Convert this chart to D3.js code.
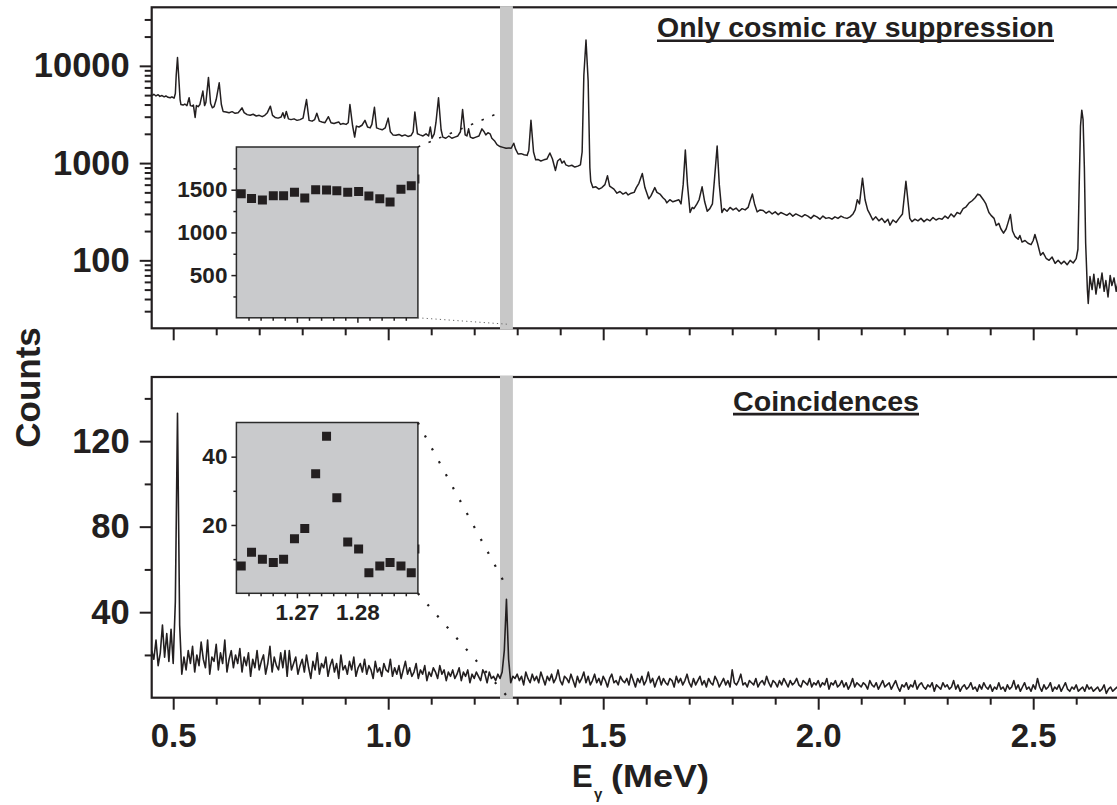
<!DOCTYPE html>
<html lang="en">
<head>
<meta charset="UTF-8">
<title>Gamma spectra: cosmic ray suppression and coincidences</title>
<script src="https://d3js.org/d3.v7.min.js"></script>
<style>
  body { margin: 0; background: #fff; }
  svg text { font-family: "Liberation Sans", Arial, Helvetica, sans-serif; font-weight: bold; fill: #231f20; }
</style>
</head>
<body>
<svg id="chart" width="1117" height="805"></svg>
<script>
// ---- data ----
// singles spectrum with only cosmic ray suppression: [energy MeV, counts]
const cosmicSpectrum = [
  [0.451,4950],[0.455,5100],[0.460,4900],[0.465,5050],[0.469,4850],[0.474,4950],[0.479,4800],[0.483,4900],[0.488,4750],[0.493,4700],
  [0.497,4800],[0.502,4650],[0.505,5200],[0.507,8000],[0.510,12200],[0.513,7500],[0.516,4500],[0.518,4000],[0.523,3950],[0.527,4050],
  [0.532,3900],[0.537,4700],[0.540,3900],[0.544,3850],[0.547,3950],[0.551,2950],[0.554,3900],[0.558,3800],[0.562,4000],[0.569,5500],
  [0.573,3900],[0.576,4200],[0.582,7600],[0.587,4100],[0.591,3700],[0.595,3800],[0.600,4500],[0.607,6700],[0.612,4000],[0.616,3400],
  [0.623,3350],[0.630,3300],[0.637,3380],[0.644,3250],[0.651,3300],[0.655,3450],[0.660,3700],[0.665,3300],[0.672,3150],[0.679,3100],
  [0.686,3180],[0.693,3050],[0.700,3100],[0.707,3000],[0.713,3100],[0.719,3300],[0.726,3850],[0.731,3100],[0.737,2950],[0.744,2900],
  [0.751,2980],[0.755,3300],[0.759,2900],[0.763,3400],[0.768,2850],[0.774,2800],[0.781,2850],[0.788,2750],[0.795,2800],[0.802,2900],
  [0.810,4500],[0.816,2750],[0.823,2700],[0.829,2800],[0.834,3250],[0.840,2700],[0.846,2650],[0.853,2600],[0.861,3000],[0.867,2600],
  [0.874,2550],[0.879,2600],[0.885,2650],[0.889,2500],[0.895,2550],[0.902,2500],[0.907,2600],[0.911,4000],[0.917,2450],[0.922,1850],
  [0.926,2400],[0.932,2350],[0.939,2450],[0.946,2750],[0.952,2350],[0.958,2300],[0.962,2500],[0.968,3750],[0.973,2300],[0.979,2250],
  [0.986,2200],[0.993,2300],[1.000,2900],[1.005,2100],[1.011,1950],[1.018,1930],[1.025,1970],[1.032,1900],[1.039,1950],[1.046,1880],
  [1.053,1920],[1.058,2100],[1.062,3350],[1.068,2000],[1.074,1950],[1.081,1900],[1.088,2000],[1.094,1900],[1.098,2350],[1.102,1800],
  [1.107,2000],[1.111,2600],[1.117,4700],[1.123,2200],[1.127,1850],[1.134,1800],[1.141,1900],[1.148,1800],[1.155,1850],[1.162,1900],
  [1.168,2100],[1.173,3550],[1.179,1950],[1.183,1900],[1.187,2250],[1.191,1850],[1.197,1800],[1.204,1850],[1.211,1900],[1.218,2250],
  [1.223,2100],[1.227,1950],[1.232,2050],[1.237,2000],[1.241,1800],[1.247,1700],[1.253,1550],[1.260,1480],[1.267,1450],[1.274,1420],
  [1.281,1430],[1.286,1420],[1.292,1600],[1.296,1400],[1.302,1240],[1.309,1250],[1.316,1220],[1.323,1200],[1.327,1350],[1.332,2750],
  [1.338,1300],[1.343,1080],[1.348,1090],[1.355,1050],[1.362,1080],[1.369,1100],[1.376,1270],[1.382,1100],[1.389,840],[1.394,1050],
  [1.400,1110],[1.404,1000],[1.409,1050],[1.413,960],[1.420,930],[1.427,950],[1.434,910],[1.441,930],[1.447,960],[1.451,1300],
  [1.455,8000],[1.460,18400],[1.465,7000],[1.469,900],[1.471,650],[1.476,560],[1.483,570],[1.490,540],[1.497,560],[1.504,600],
  [1.510,740],[1.515,580],[1.520,560],[1.525,540],[1.532,490],[1.539,510],[1.546,480],[1.553,500],[1.558,470],[1.565,490],
  [1.572,500],[1.577,560],[1.583,620],[1.591,780],[1.597,560],[1.606,430],[1.611,460],[1.620,560],[1.625,500],[1.632,480],
  [1.639,440],[1.644,420],[1.648,390],[1.655,420],[1.662,400],[1.669,410],[1.676,420],[1.681,380],[1.686,600],[1.691,1360],
  [1.696,600],[1.702,310],[1.707,350],[1.711,340],[1.718,380],[1.723,420],[1.730,570],[1.736,400],[1.742,320],[1.748,340],
  [1.754,380],[1.759,700],[1.765,1500],[1.770,600],[1.776,310],[1.781,340],[1.788,320],[1.795,350],[1.802,330],[1.809,345],
  [1.816,320],[1.823,340],[1.830,330],[1.837,350],[1.841,400],[1.847,480],[1.852,380],[1.858,315],[1.865,330],[1.872,325],
  [1.879,305],[1.886,320],[1.893,300],[1.900,315],[1.907,295],[1.913,310],[1.920,300],[1.927,290],[1.934,305],[1.941,285],
  [1.948,300],[1.955,290],[1.962,280],[1.969,295],[1.976,285],[1.983,270],[1.990,290],[1.997,280],[2.004,265],[2.011,285],
  [2.018,270],[2.025,275],[2.032,265],[2.039,280],[2.046,270],[2.053,285],[2.060,275],[2.067,270],[2.074,280],[2.081,300],
  [2.086,330],[2.091,420],[2.096,380],[2.103,700],[2.109,420],[2.115,330],[2.120,300],[2.127,260],[2.134,280],[2.141,255],
  [2.148,270],[2.155,245],[2.162,265],[2.167,230],[2.174,260],[2.181,245],[2.188,270],[2.196,300],[2.204,650],[2.213,270],
  [2.218,250],[2.225,265],[2.232,255],[2.239,270],[2.246,250],[2.253,265],[2.260,255],[2.267,275],[2.274,260],[2.281,270],
  [2.288,265],[2.295,285],[2.302,270],[2.309,300],[2.316,280],[2.323,310],[2.330,300],[2.337,340],[2.344,355],[2.351,390],
  [2.358,410],[2.365,440],[2.371,480],[2.376,470],[2.384,420],[2.390,380],[2.397,310],[2.402,290],[2.409,270],[2.414,228],
  [2.420,240],[2.425,210],[2.431,190],[2.437,210],[2.441,240],[2.447,296],[2.452,200],[2.458,175],[2.465,165],[2.469,180],
  [2.474,154],[2.481,160],[2.488,150],[2.495,145],[2.500,160],[2.504,184],[2.510,150],[2.517,113],[2.523,120],[2.530,105],
  [2.537,100],[2.544,108],[2.551,93],[2.558,100],[2.565,92],[2.572,98],[2.579,90],[2.586,100],[2.593,94],[2.600,104],
  [2.604,130],[2.607,600],[2.610,2400],[2.613,3500],[2.616,2800],[2.619,900],[2.622,150],[2.626,50],[2.628,36],[2.632,68],
  [2.637,50],[2.641,72],[2.646,45],[2.651,65],[2.655,52],[2.660,74],[2.665,48],[2.669,62],[2.674,42],[2.679,70],
  [2.683,55],[2.688,66],[2.693,48],[2.697,60],[2.702,55]
];

// coincidence spectrum: channels of 5 keV starting at 0.450 MeV
const coincStart = 0.45;
const coincStep = 0.005;
const coincCounts = [
  22,18,27,15,21,34,19,30,17,32, 16,45,133,34,11,19,13,22,16,24,
  12,20,15,26,18,14,27,11,19,17, 25,13,21,16,27,12,18,22,14,20,
  16,23,12,19,15,21,10,18,14,22, 13,17,20,11,16,24,12,19,15,13,
  21,14,22,10,22,13,16,19,11,15, 18,12,20,14,9,17,13,21,11,16,
  14,19,10,15,18,12,16,9,20,13, 15,11,17,13,19,10,14,16,12,18,
  11,15,13,9,17,12,14,10,16,13, 12,18,10,14,11,15,9,13,17,11,
  14,10,12,16,9,13,11,15,8,12, 10,14,12,9,15,11,13,8,12,10,
  13,9,11,14,8,12,10,13,7,11, 9,12,10,8,13,11,7,12,9,10,
  8,11,9,12,22,46,18,7,10,9, 11,8,10,6,12,9,7,11,8,10,
  7,12,9,6,10,8,11,7,9,13, 8,6,10,9,7,11,8,5,10,7,
  9,12,7,10,6,8,11,7,9,6, 10,8,5,9,11,7,8,6,10,8,
  7,9,6,11,8,5,9,7,10,6, 8,12,7,9,5,8,10,6,9,7,
  6,9,8,5,10,7,9,6,8,11, 7,5,9,6,8,10,6,8,5,9,
  7,6,10,8,5,7,9,6,8,5, 13,7,6,8,11,6,7,5,8,7,
  6,9,5,7,8,6,10,7,5,8, 7,5,8,6,9,7,5,8,6,7,
  9,6,5,8,7,6,9,5,7,6, 8,5,7,6,9,4,7,6,8,5,
  6,8,5,7,4,6,9,5,7,6, 5,7,6,4,8,6,5,7,4,6,
  8,5,6,7,4,6,8,5,3,6, 5,7,4,6,5,8,4,6,7,5,
  4,6,5,7,3,6,5,4,7,5, 6,4,5,8,4,6,3,5,6,4,
  5,7,4,5,3,6,4,7,5,4, 6,3,5,4,7,4,5,3,6,4,
  5,8,4,6,3,5,7,4,5,3, 6,4,9,5,3,6,4,5,7,3,
  5,4,6,3,5,7,4,3,5,4, 6,3,4,5,3,6,4,5,3,4,
  5,3,4,6,2,4,5,3,4,5, 3
];

// zoomed insets around the 1.275 MeV gate
const insetEnergy = [1.2608,1.2625,1.2643,1.2661,1.2678,1.2696,1.2713,1.2731,1.2749,1.2766,1.2784,1.2802,1.2819,1.2837,1.2854,1.2872,1.2889,1.2907];
const insetSingles = [1453,1398,1380,1430,1430,1469,1403,1500,1497,1488,1469,1480,1426,1395,1356,1504,1547,1625];
const insetCoinc = [8,12,10,9,10,16,19,35,46,28,15,13,6,8,9,8,6,13];
const gateBand = [1.26, 1.29];

// ticks
const xMajorTicks = [0.5, 1.0, 1.5, 2.0, 2.5];
const xMinorTicks = [0.6, 0.7, 0.8, 0.9, 1.1, 1.2, 1.3, 1.4, 1.6, 1.7, 1.8, 1.9, 2.1, 2.2, 2.3, 2.4, 2.6];
const logMajorTicks = [100, 1000, 10000];
const logMinorTicks = [30, 40, 50, 60, 70, 80, 90, 200, 300, 400, 500, 600, 700, 800, 900,
                       2000, 3000, 4000, 5000, 6000, 7000, 8000, 9000, 20000, 30000];
const coincMajorTicks = [40, 80, 120];
const coincMinorTicks = [20, 60, 100, 140];
const insetXMajor = [1.27, 1.28];
const insetXMinor = [1.262, 1.264, 1.266, 1.268, 1.272, 1.274, 1.276, 1.278, 1.282, 1.284, 1.286, 1.288];
const singlesInsetMajor = [500, 1000, 1500];
const singlesInsetMinor = [250, 750, 1250, 1750];
const coincInsetMajor = [20, 40];
const coincInsetMinor = [10, 30];

// zoom connectors: [inset point, main plot point]
const singlesLinks = [[[1.29, 2000], [1.252, 3200]], [[1.29, 0], [1.279, 22]]];
const coincLinks = [[[1.29, 50], [1.275, 52]], [[1.29, 0], [1.275, 1]]];

// ---- drawing ----
const ink = "#231f20";
const FONT = '"Liberation Sans", Arial, Helvetica, sans-serif';
const svg = d3.select("#chart");

const x = d3.scaleLinear().domain([0.45, 2.7]).range([151.7, 1119.2]);
const yTop = d3.scaleLog().domain([20, 40000]).range([328.3, 7.3]);
const yBot = d3.scaleLinear().domain([0, 150]).range([697.7, 377]);
const ix = d3.scaleLinear().domain(gateBand).range([236.4, 417.9]);
const iyTop = d3.scaleLinear().domain([0, 2000]).range([317.8, 147]);
const iyBot = d3.scaleLinear().domain([0, 50]).range([593.3, 422.5]);

function styleAxis(sel, fs, sw = 2) {
  sel.select(".domain").remove();
  sel.selectAll("line").attr("stroke", ink).attr("stroke-width", sw);
  sel.selectAll("text").style("font-size", fs + "px").style("font-family", FONT)
     .style("font-weight", "bold").attr("fill", ink);
}

function drawPanel(yScale, clipId) {
  const [b, t] = yScale.range();
  const [l, r] = x.range();
  svg.append("rect").attr("x", l).attr("y", t).attr("width", r - l).attr("height", b - t)
     .attr("fill", "none").attr("stroke", ink).attr("stroke-width", 2.2);
  svg.append("rect").attr("x", x(gateBand[0])).attr("y", t - 1.2)
     .attr("width", x(gateBand[1]) - x(gateBand[0])).attr("height", b - t + 2.4)
     .attr("fill", "#c8c8c8");
  svg.append("clipPath").attr("id", clipId).append("rect")
     .attr("x", l).attr("y", t).attr("width", r - l).attr("height", b - t);
}

// top panel
drawPanel(yTop, "clipTop");
svg.append("path").datum(cosmicSpectrum)
   .attr("clip-path", "url(#clipTop)")
   .attr("fill", "none").attr("stroke", ink).attr("stroke-width", 1.5).attr("stroke-linejoin", "round")
   .attr("d", d3.line().x(d => x(d[0])).y(d => yTop(d[1])));

svg.append("g").attr("transform", `translate(${x.range()[0]},0)`)
   .call(d3.axisLeft(yTop).tickValues(logMajorTicks).tickSize(12).tickPadding(10).tickFormat(d3.format("d")))
   .call(styleAxis, 34.5);
svg.append("g").attr("transform", `translate(${x.range()[0]},0)`)
   .call(d3.axisLeft(yTop).tickValues(logMinorTicks).tickSize(7).tickFormat(() => ""))
   .call(styleAxis, 10);
svg.append("g").attr("transform", `translate(0,${yTop.range()[0]})`)
   .call(d3.axisBottom(x).tickValues(xMajorTicks).tickSize(12).tickFormat(() => ""))
   .call(styleAxis, 10);
svg.append("g").attr("transform", `translate(0,${yTop.range()[0]})`)
   .call(d3.axisBottom(x).tickValues(xMinorTicks).tickSize(7).tickFormat(() => ""))
   .call(styleAxis, 10);

// bottom panel
drawPanel(yBot, "clipBot");
svg.append("path").datum(coincCounts)
   .attr("clip-path", "url(#clipBot)")
   .attr("fill", "none").attr("stroke", ink).attr("stroke-width", 1.6).attr("stroke-linejoin", "round")
   .attr("d", d3.line().x((d, i) => x(coincStart + i * coincStep)).y(d => yBot(d)));

svg.append("g").attr("transform", `translate(${x.range()[0]},0)`)
   .call(d3.axisLeft(yBot).tickValues(coincMajorTicks).tickSize(12).tickPadding(10).tickFormat(d3.format("d")))
   .call(styleAxis, 34.5);
svg.append("g").attr("transform", `translate(${x.range()[0]},0)`)
   .call(d3.axisLeft(yBot).tickValues(coincMinorTicks).tickSize(7).tickFormat(() => ""))
   .call(styleAxis, 10);
svg.append("g").attr("transform", `translate(0,${yBot.range()[0]})`)
   .call(d3.axisBottom(x).tickValues(xMajorTicks).tickSize(12).tickPadding(14).tickFormat(d3.format(".1f")))
   .call(styleAxis, 33);
svg.append("g").attr("transform", `translate(0,${yBot.range()[0]})`)
   .call(d3.axisBottom(x).tickValues(xMinorTicks).tickSize(7).tickFormat(() => ""))
   .call(styleAxis, 10);

// insets
function drawInset(yScale, values, majorY, minorY, clipId, showX) {
  const [b, t] = yScale.range();
  const [l, r] = ix.range();
  svg.append("rect").attr("x", l).attr("y", t).attr("width", r - l).attr("height", b - t).attr("fill", "#c9cacc");
  svg.append("clipPath").attr("id", clipId).append("rect")
     .attr("x", l).attr("y", t).attr("width", r - l + 1.5).attr("height", b - t);
  const pts = insetEnergy.map((e, i) => [e, values[i]]);
  svg.append("g").attr("clip-path", `url(#${clipId})`)
     .selectAll("path").data(pts).join("path")
     .attr("transform", d => `translate(${ix(d[0])},${yScale(d[1])})`)
     .attr("d", d3.symbol(d3.symbolSquare, 81))
     .attr("fill", ink);
  svg.append("rect").attr("x", l).attr("y", t).attr("width", r - l).attr("height", b - t)
     .attr("fill", "none").attr("stroke", "#2b2b2b").attr("stroke-width", 1.5);

  svg.append("g").attr("transform", `translate(${l},0)`)
     .call(d3.axisLeft(yScale).tickValues(majorY).tickSize(5).tickPadding(4).tickFormat(d3.format("d")))
     .call(styleAxis, 22.5, 1.5);
  svg.append("g").attr("transform", `translate(${l},0)`)
     .call(d3.axisLeft(yScale).tickValues(minorY).tickSize(3).tickFormat(() => ""))
     .call(styleAxis, 10, 1.5);
  svg.append("g").attr("transform", `translate(0,${b})`)
     .call(d3.axisBottom(ix).tickValues(insetXMajor).tickSize(5).tickPadding(6)
       .tickFormat(showX ? d3.format(".2f") : () => ""))
     .call(styleAxis, 22.5, 1.5);
  svg.append("g").attr("transform", `translate(0,${b})`)
     .call(d3.axisBottom(ix).tickValues(insetXMinor).tickSize(3).tickFormat(() => ""))
     .call(styleAxis, 10, 1.5);
}
drawInset(iyTop, insetSingles, singlesInsetMajor, singlesInsetMinor, "clipInsetTop", false);
drawInset(iyBot, insetCoinc, coincInsetMajor, coincInsetMinor, "clipInsetBot", true);

// zoom connectors
svg.selectAll(".linkTop").data(singlesLinks).join("line")
   .attr("x1", d => ix(d[0][0])).attr("y1", d => iyTop(d[0][1]))
   .attr("x2", d => x(d[1][0])).attr("y2", d => yTop(d[1][1]))
   .attr("stroke", (d, i) => i === 0 ? ink : "#666")
   .attr("stroke-width", (d, i) => i === 0 ? 1.6 : 1)
   .attr("stroke-dasharray", (d, i) => i === 0 ? "2.5 9" : "1.2 3.2");
svg.selectAll(".linkBot").data(coincLinks).join("line")
   .attr("x1", d => ix(d[0][0])).attr("y1", d => iyBot(d[0][1]))
   .attr("x2", d => x(d[1][0])).attr("y2", d => yBot(d[1][1]))
   .attr("stroke", ink).attr("stroke-width", 2.2)
   .attr("stroke-dasharray", "2.2 12.5");

// titles
function underlinedTitle(label, cx, baseline, width) {
  svg.append("text").attr("x", cx).attr("y", baseline).attr("text-anchor", "middle")
     .attr("textLength", width).attr("lengthAdjust", "spacingAndGlyphs")
     .style("font-size", "27px").text(label);
  svg.append("line").attr("x1", cx - width / 2).attr("x2", cx + width / 2)
     .attr("y1", baseline + 3.4).attr("y2", baseline + 3.4)
     .attr("stroke", ink).attr("stroke-width", 2.6);
}
underlinedTitle("Only cosmic ray suppression", 855.5, 37.3, 397);
underlinedTitle("Coincidences", 826, 410.7, 186);

// axis titles
svg.append("text").attr("transform", "translate(39.5,387.5) rotate(-90)")
   .attr("text-anchor", "middle").style("font-size", "35px").text("Counts");
svg.append("text").attr("x", 572).attr("y", 787).style("font-size", "31px").text("E");
svg.append("text").attr("x", 594).attr("y", 799).style("font-size", "15px").text("γ");
svg.append("text").attr("x", 611).attr("y", 787).attr("textLength", 98).attr("lengthAdjust", "spacingAndGlyphs")
   .style("font-size", "31px").text("(MeV)");
</script>
</body>
</html>
